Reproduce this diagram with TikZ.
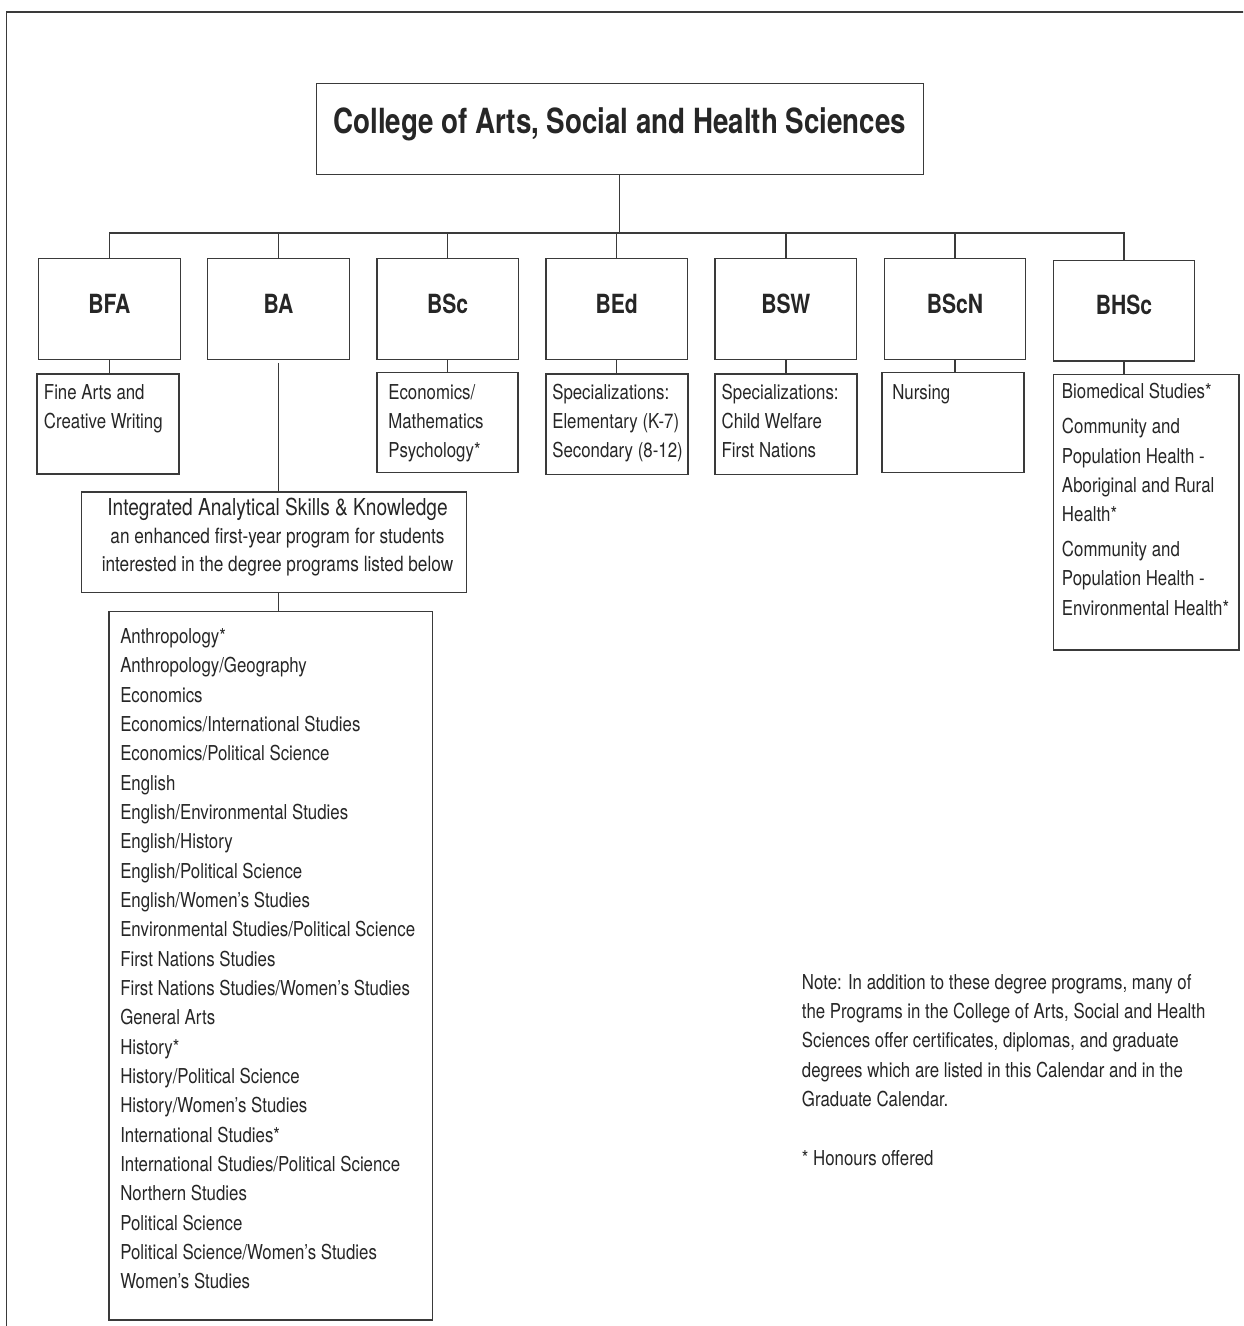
\documentclass[tikz,border=0pt]{standalone}
\usepackage{fontspec}
\setmainfont{TeX Gyre Heros}[FakeStretch=0.82]
\newfontfamily\boldish{TeX Gyre Heros}[FakeStretch=0.8]
\usetikzlibrary{fit}
\definecolor{ink}{HTML}{262626}
\definecolor{linec}{HTML}{3A3A3A}
\newcommand\tstrut{\rule{0pt}{15pt}}
\begin{document}
\begin{tikzpicture}[x=0.75pt,y=-0.75pt,
  box/.style={draw=linec,line width=1pt,inner sep=0pt},
  conn/.style={draw=linec,line width=1pt},
  txt/.style={anchor=north west,inner sep=0pt,align=left,text=ink,font=\fontsize{15.4pt}{22pt}\selectfont},
  ctxt/.style={anchor=north,inner sep=0pt,align=center,text=ink,font=\fontsize{15.75pt}{21pt}\selectfont},
  titlef/.style={anchor=base,inner sep=0pt,text=ink,font=\boldish\bfseries\fontsize{26pt}{30pt}\selectfont},
  degf/.style={anchor=base,inner sep=0pt,text=ink,font=\boldish\bfseries\fontsize{19.8pt}{22pt}\selectfont}]
\useasboundingbox (0,0) rectangle (1243,1326);
\begin{scope}
  \clip (0,0) rectangle (1243,1326);
  \draw[linec,line width=1pt] (6.7,12) rectangle (1300,1400);
\end{scope}

% top box
\node[box,fit={(316.3,83.3)(923.3,174.3)}] (col) {};
\node[titlef] (coltxt) at (619.8,133.3) {College of Arts, Social and Health Sciences};

% degree boxes
\node[box,fit={(38.7,258.7)(180.2,359.3)}] (bfa) {};
\node[box,fit={(207.8,258.7)(349.3,359.3)}] (ba) {};
\node[box,fit={(376.9,258.7)(518.4,359.3)}] (bsc) {};
\node[box,fit={(546.0,258.7)(687.5,359.3)}] (bed) {};
\node[box,fit={(715.1,258.7)(856.6,359.3)}] (bsw) {};
\node[box,fit={(884.2,258.7)(1025.7,359.3)}] (bscn) {};
\node[box,fit={(1053.3,260.7)(1194.8,361)}] (bhsc) {};

\node[degf] (bfal) at (109.45,313.3) {BFA};
\node[degf] (bal) at (278.55,313.3) {BA};
\node[degf] (bscl) at (447.65,313.3) {BSc};
\node[degf] (bedl) at (616.75,313.3) {BEd};
\node[degf] (bswl) at (785.85,313.3) {BSW};
\node[degf] (bscnl) at (954.95,313.3) {BScN};
\node[degf] (bhscl) at (1124.05,314.5) {BHSc};

% sub boxes
\node[box,fit={(37,374)(179,474)}] (bfasub) {};
\node[box,fit={(377,372.3)(518,472.7)}] (bscsub) {};
\node[box,fit={(546,374)(688,474.3)}] (bedsub) {};
\node[box,fit={(715,374)(857,474.3)}] (bswsub) {};
\node[box,fit={(882,372.3)(1024,472.7)}] (bscnsub) {};
\node[box,fit={(1053.3,374.3)(1239,650)}] (bhscsub) {};
\node[box,fit={(81.7,492)(466.7,592.3)}] (iask) {};
\node[box,fit={(109,611.7)(432.3,1320)}] (list) {};

\node[txt] (bfatxt) at (43.7,379) {\tstrut Fine Arts and\\Creative Writing};
\node[txt] (bsctxt) at (388,379) {\tstrut Economics/\\Mathematics\\Psychology*};
\node[txt] (bedtxt) at (552,379) {\tstrut Specializations:\\Elementary (K-7)\\Secondary (8-12)};
\node[txt] (bswtxt) at (721.4,379) {\tstrut Specializations:\\Child Welfare\\First Nations};
\node[txt] (bscntxt) at (892,379) {\tstrut Nursing};
\node[txt] (bhsctxt) at (1061.7,378.5) {\tstrut Biomedical Studies*\\[4.2pt]Community and\\Population Health -\\Aboriginal and Rural\\Health*\\[4.2pt]Community and\\Population Health -\\Environmental Health*};

\node[ctxt] (iasktxt) at (277.5,495) {{\fontsize{17.5pt}{21pt}\selectfont\tstrut Integrated Analytical Skills \& Knowledge}\\an enhanced first-year program for students\\interested in the degree programs listed below};

\node[txt] (listtxt) at (120,623.3) {\tstrut Anthropology*\\Anthropology/Geography\\Economics\\Economics/International Studies\\Economics/Political Science\\English\\English/Environmental Studies\\English/History\\English/Political Science\\English/Women’s Studies\\Environmental Studies/Political Science\\First Nations Studies\\First Nations Studies/Women’s Studies\\General Arts\\History*\\History/Political Science\\History/Women’s Studies\\International Studies*\\International Studies/Political Science\\Northern Studies\\Political Science\\Political Science/Women’s Studies\\Women’s Studies};

\node[txt] (note) at (801.7,969) {\tstrut Note: In addition to these degree programs, many of\\the Programs in the College of Arts, Social and Health\\Sciences offer certificates, diplomas, and graduate\\degrees which are listed in this Calendar and in the\\Graduate Calendar.\\[22pt]{*} Honours offered};

% connectors
\coordinate (bus) at (619.8,233);
\draw[conn] (col.south) -- (bus);
\foreach \n in {bfa,ba,bsc,bed,bsw,bscn,bhsc} \draw[conn] (\n.north) |- (bus);
\draw[conn] (bfa.south) -- (bfa.south |- bfasub.north);
\draw[conn] (bsc.south) -- (bsc.south |- bscsub.north);
\draw[conn] (bed.south) -- (bed.south |- bedsub.north);
\draw[conn] (bsw.south) -- (bsw.south |- bswsub.north);
\draw[conn] (bscn.south) -- (bscn.south |- bscnsub.north);
\draw[conn] (bhsc.south) -- (bhsc.south |- bhscsub.north);
\draw[conn,shorten <=2.25pt] (ba.south) -- (ba.south |- iask.north);
\draw[conn] (ba.south |- iask.south) -- (ba.south |- list.north);
\end{tikzpicture}
\end{document}
